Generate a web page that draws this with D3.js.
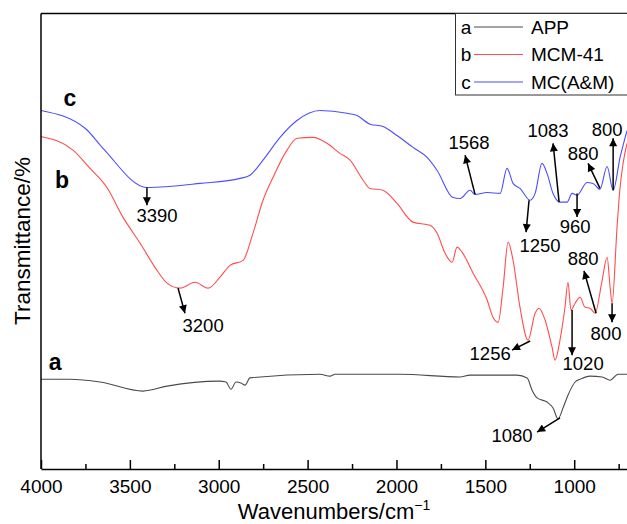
<!DOCTYPE html>
<meta charset="utf-8">
<style>
  body { margin: 0; background: #fff; }
  svg text { font-family: "Liberation Sans", Arial, sans-serif; fill: #000; }
  .axis path, .axis line { stroke: #000; stroke-width: 1.5; fill: none; }
  .axis text { font-size: 19px; }
  .curve { fill: none; stroke-width: 1.1; }
  .ann line { stroke: #000; stroke-width: 1.5; }
  .ann text { font-size: 18.5px; text-anchor: middle; }
</style>
<div id="chart"></div>
<script src="https://cdn.jsdelivr.net/npm/d3@7"></script>
<script>
// wavenumber (cm-1) and transmittance (a.u.)
var seriesA = [
  [4000,19.7],[3837,19.7],[3668,19.1],[3426,17.1],[3291,18.2],[2998,19.3],[2959,19.1],
  [2931,17.5],[2903,19.1],[2875,18.9],[2852,18.4],[2824,20.0],[2430,20.8],[2374,20.4],
  [2346,20.8],[1980,20.8],[1642,20.2],[1586,20.6],[1322,20.6],[1265,20.0],[1237,17.3],
  [1209,15.6],[1153,14.7],[1119,13.4],[1091,11.0],[1063,13.4],[1035,16.2],[995,19.1],
  [967,19.7],[911,20.4],[843,20.2],[798,19.5],[753,20.8],[703,20.8]
];
var seriesB = [
  [4000,73.0],[3820,70.0],[3724,66.0],[3629,61.8],[3539,55.3],[3443,49.6],[3347,43.6],
  [3291,40.8],[3218,39.7],[3133,41.0],[3060,39.7],[2993,42.1],[2937,44.7],[2863,45.8],
  [2807,51.8],[2751,59.0],[2695,64.0],[2616,70.0],[2559,72.6],[2469,72.8],[2391,71.5],
  [2318,69.3],[2261,67.8],[2188,63.4],[2149,61.6],[2076,61.2],[1997,58.3],[1907,54.2],
  [1811,53.5],[1772,51.8],[1727,47.4],[1687,45.4],[1659,48.7],[1631,47.6],[1569,43.0],
  [1490,37.1],[1457,33.3],[1428,32.2],[1400,39.9],[1372,49.8],[1344,45.8],[1305,35.5],
  [1260,28.3],[1220,34.2],[1198,35.3],[1164,32.7],[1125,26.8],[1108,23.9],[1080,28.3],
  [1052,35.5],[1035,41.0],[1018,34.9],[995,36.4],[967,37.7],[939,35.5],[911,35.3],
  [883,34.2],[843,41.4],[815,46.5],[798,39.9],[787,36.4],[759,53.1],[742,61.8],
  [725,67.1],[703,71.5]
];
var seriesC = [
  [4000,78.7],[3752,74.8],[3651,70.4],[3404,61.8],[3105,62.7],[2880,63.8],[2824,64.5],
  [2751,67.8],[2655,72.8],[2560,76.5],[2430,78.7],[2278,78.1],[2222,77.6],[2149,75.7],
  [2076,75.2],[1997,73.2],[1907,70.6],[1828,68.4],[1772,65.6],[1682,59.6],[1642,59.4],
  [1586,61.2],[1558,60.3],[1490,60.7],[1417,60.5],[1378,66.0],[1344,62.7],[1305,61.6],
  [1248,59.0],[1220,60.5],[1181,67.1],[1153,64.9],[1119,60.5],[1080,58.6],[1040,58.6],
  [1012,60.5],[984,60.1],[928,62.9],[894,62.7],[855,61.4],[815,66.4],[781,61.2],
  [742,68.4],[703,74.3]
];

var seriesNames = ["APP", "MCM-41", "MC(A&M)"];
var seriesKeys = ["a", "b", "c"];
var seriesColors = ["#4a4a4a", "#ff4d4d", "#4d4dff"];
var xTicks = [4000, 3500, 3000, 2500, 2000, 1500, 1000];
var xMinorTicks = [3750, 3250, 2750, 2250, 1750, 1250, 750];

// label, tail (wn, T), arrow tip (wn, T), text (wn, T)
var annotations = [
  ["3390", 3404, 61.8, 3404, 57.9, 3347, 54.2],
  ["3200", 3229, 39.7, 3190, 34.2, 3088, 30.0],
  ["1568", 1558, 60.3, 1614, 68.9, 1592, 70.2],
  ["1250", 1254, 59.0, 1271, 52.0, 1192, 47.6],
  ["1083", 1085, 58.6, 1119, 71.5, 1147, 72.8],
  ["960",  984, 60.5, 984, 55.3, 995, 51.8],
  ["880",  855, 61.6, 922, 67.1, 950, 67.8],
  ["800",  781, 61.2, 781, 72.6, 815, 73.2],
  ["880",  877, 34.2, 945, 43.5, 950, 44.7],
  ["800",  787, 36.4, 787, 32.2, 821, 28.3],
  ["1256", 1248, 28.1, 1350, 26.1, 1473, 23.9],
  ["1020", 1012, 34.9, 1012, 25.0, 950, 21.7],
  ["1080", 1080, 11.2, 1209, 8.1, 1350, 5.9]
];
// curve letter, (wn, T)
var curveLabels = [["a", 3921, 21.7], ["b", 3882, 61.8], ["c", 3837, 79.6]];

var W = 627, H = 524;
var margin = {top: 13.5, right: 0, bottom: 55, left: 41};

var x = d3.scaleLinear().domain([4000, 703]).range([margin.left, W - margin.right]);
var y = d3.scaleLinear().domain([0, 100]).range([H - margin.bottom, margin.top]);

var svg = d3.select("#chart").append("svg")
    .attr("width", W).attr("height", H);

svg.append("defs").append("marker")
    .attr("id", "head")
    .attr("viewBox", "0 0 10 10")
    .attr("refX", 10).attr("refY", 5)
    .attr("markerWidth", 10).attr("markerHeight", 8)
    .attr("markerUnits", "userSpaceOnUse")
    .attr("orient", "auto")
  .append("path")
    .attr("d", "M0,0L10,5L0,10Z")
    .attr("fill", "#000");

var line = d3.line()
    .x(d => x(d[0]))
    .y(d => y(d[1]))
    .curve(d3.curveMonotoneX);

[seriesA, seriesB, seriesC].forEach((s, i) => {
  svg.append("path")
      .attr("class", "curve")
      .attr("d", line(s))
      .attr("stroke", seriesColors[i]);
});

// frame: top and left
svg.append("line")
    .attr("x1", margin.left).attr("x2", W)
    .attr("y1", margin.top).attr("y2", margin.top)
    .attr("stroke", "#000").attr("stroke-width", 1.5);
svg.append("line")
    .attr("x1", margin.left).attr("x2", margin.left)
    .attr("y1", margin.top).attr("y2", H - margin.bottom)
    .attr("stroke", "#000").attr("stroke-width", 1.5);

var xAxis = d3.axisBottom(x)
    .tickValues(xTicks)
    .tickSizeInner(-9)
    .tickSizeOuter(0)
    .tickPadding(11)
    .tickFormat(d3.format("d"));

svg.append("g")
    .attr("class", "x axis")
    .attr("transform", "translate(0," + (H - margin.bottom) + ")")
    .call(xAxis);

svg.append("g")
    .attr("class", "x axis minor")
    .attr("transform", "translate(0," + (H - margin.bottom) + ")")
    .call(d3.axisBottom(x).tickValues(xMinorTicks).tickSizeInner(-5).tickSizeOuter(0).tickFormat(""))
    .select(".domain").remove();

// axis titles
svg.append("text")
    .attr("transform", "translate(30," + 241 + ") rotate(-90)")
    .attr("text-anchor", "middle")
    .style("font-size", "22.5px")
    .text("Transmittance/%");

var xt = svg.append("text")
    .attr("x", 334).attr("y", 519)
    .attr("text-anchor", "middle")
    .style("font-size", "22px");
xt.append("tspan").text("Wavenumbers/cm");
xt.append("tspan").attr("dy", -9).style("font-size", "14px").text("\u22121");

// curve letters
svg.selectAll(".clabel")
    .data(curveLabels)
  .enter().append("text")
    .attr("class", "clabel")
    .attr("x", d => x(d[1]))
    .attr("y", d => y(d[2]))
    .attr("text-anchor", "middle")
    .style("font-size", "23px")
    .style("font-weight", "bold")
    .text(d => d[0]);

// peak annotations
var ann = svg.selectAll(".ann")
    .data(annotations)
  .enter().append("g")
    .attr("class", "ann");

ann.append("line")
    .attr("x1", d => x(d[1])).attr("y1", d => y(d[2]))
    .attr("x2", d => x(d[3])).attr("y2", d => y(d[4]))
    .attr("marker-end", "url(#head)");

ann.append("text")
    .attr("x", d => x(d[5]))
    .attr("y", d => y(d[6]))
    .text(d => d[0]);

// legend
var lg = svg.append("g").attr("class", "legend");
lg.append("rect")
    .attr("x", 455.5).attr("y", margin.top)
    .attr("width", 200).attr("height", 81.5)
    .attr("fill", "#fff")
    .attr("stroke", "#333").attr("stroke-width", 1);

var rows = lg.selectAll(".row")
    .data(seriesNames)
  .enter().append("g")
    .attr("transform", (d, i) => "translate(0," + (27 + i * 27.5) + ")");

rows.append("text")
    .attr("x", 466).attr("y", 6.5)
    .attr("text-anchor", "middle")
    .style("font-size", "19px")
    .text((d, i) => seriesKeys[i]);
rows.append("line")
    .attr("x1", 474).attr("x2", 523)
    .attr("stroke", (d, i) => seriesColors[i])
    .attr("stroke-width", 1);
rows.append("text")
    .attr("x", 531).attr("y", 6.5)
    .style("font-size", "19px")
    .text(d => d);
</script>
